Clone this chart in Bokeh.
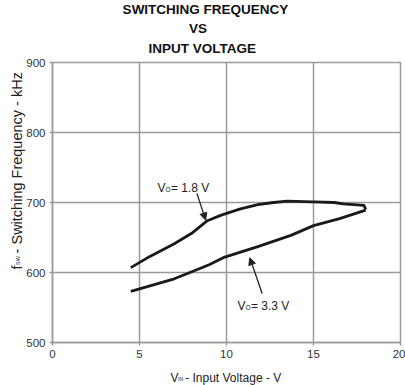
import math
from bokeh.plotting import figure
from bokeh.models import Label, Arrow, NormalHead, FixedTicker, Range1d
from bokeh.embed import file_html
from bokeh.resources import INLINE

# ---- data ----
vin_18 = [4.5, 5.6, 7.0, 8.0, 8.9, 9.7, 10.8, 11.8, 12.7, 13.5, 15.0, 16.2, 16.7, 17.9, 18.0]
fsw_18 = [607, 623, 641, 656, 674, 682, 691, 697, 700, 702, 701, 700, 698, 696, 690]
vin_33 = [4.5, 5.6, 7.0, 7.9, 9.0, 9.9, 11.8, 13.7, 15.0, 16.5, 18.0]
fsw_33 = [573, 581, 591, 600, 611, 622, 637, 653, 667, 677, 689]
x_ticks = [0, 5, 10, 15, 20]
y_ticks = [500, 600, 700, 800, 900]
title_lines = ["SWITCHING FREQUENCY", "VS", "INPUT VOLTAGE"]

FONT = "Liberation Sans"
GRID = "#9a9a9a"
INK = "#222222"
NB = "\u00a0"

W, H = 405, 385
BL, BR, BT, BB = 52, 5, 62, 43

p = figure(width=W, height=H, output_backend="svg", toolbar_location=None,
           x_range=Range1d(0, 20), y_range=Range1d(500, 900),
           min_border_left=BL, min_border_right=BR, min_border_top=BT, min_border_bottom=BB)

for ax in (p.xaxis[0], p.yaxis[0]):
    ax.axis_line_color = GRID
    ax.axis_line_width = 1.5
    ax.major_tick_line_color = GRID
    ax.major_tick_line_width = 1.5
    ax.major_tick_out = 3
    ax.major_tick_in = 0
    ax.minor_tick_line_color = None
    ax.major_label_text_font = FONT
    ax.major_label_text_font_size = "11.5px"
    ax.major_label_text_color = "#333333"
p.xaxis.ticker = FixedTicker(ticks=x_ticks)
p.yaxis.ticker = FixedTicker(ticks=y_ticks)
p.xaxis.major_label_standoff = 4
p.yaxis.major_label_standoff = 4

p.xgrid.ticker = FixedTicker(ticks=x_ticks)
p.ygrid.ticker = FixedTicker(ticks=y_ticks)
p.grid.grid_line_color = GRID
p.grid.grid_line_width = 1.5
p.outline_line_color = GRID
p.outline_line_width = 1.5
p.background_fill_color = "white"
p.border_fill_color = "white"

p.line(vin_18, fsw_18, line_color="#1a1a1a", line_width=2.8, line_join="round")
p.line(vin_33, fsw_33, line_color="#1a1a1a", line_width=2.8, line_join="round")


def txt(x, y, text, size, angle=0.0, align="left", bold=False, color=INK, place="center"):
    """Place text at page-pixel position (x, baseline y) in canvas units (top-down).
    Texts outside the frame are hosted in a side panel so they are not clipped."""
    lab = Label(x=x, y=y, x_units="canvas", y_units="canvas", text=text,
                angle=angle, text_align=align, text_baseline="alphabetic",
                text_font=FONT, text_font_size=f"{size}px",
                text_font_style="bold" if bold else "normal", text_color=color)
    if place == "center":
        p.add_layout(lab)
    else:
        p.add_layout(lab, place)


# ---- titles ----
for t, cx, yb in zip(title_lines, [205, 197.5, 201.7], [9, 28, 48]):
    txt(cx, yb, t, 13.5, align="center", bold=True, color="#111111", place="above")

# ---- axis titles with subscripts ----
txt(170, 377, "V" + NB + NB + "- Input Voltage - V", 12, place="below")
txt(177.5, 378.5, "IN", 5, place="below")

R = math.pi / 2
txt(16, 269, "f" + NB + NB + NB + "- Switching Frequency - kHz", 14.5, angle=R, place="left")
txt(17.5, 264.5, "SW", 5.5, angle=R, place="above")

# ---- curve labels ----
txt(157, 187.5, "V", 12)
txt(165, 189, "O", 6.5)
txt(170.5, 187.5, "= 1.8 V", 12)
txt(237, 305.5, "V", 12)
txt(245, 307, "O", 6.5)
txt(250.5, 305.5, "= 3.3 V", 12)

# ---- arrows ----
p.add_layout(Arrow(x_start=8.3, y_start=713, x_end=8.8, y_end=675,
                   line_color=INK, line_width=1.3,
                   end=NormalHead(size=7, fill_color=INK, line_color=INK)))
p.add_layout(Arrow(x_start=12.05, y_start=570, x_end=11.34, y_end=621,
                   line_color=INK, line_width=1.3,
                   end=NormalHead(size=7, fill_color=INK, line_color=INK)))

open("out.html", "w").write(file_html(p, INLINE))
